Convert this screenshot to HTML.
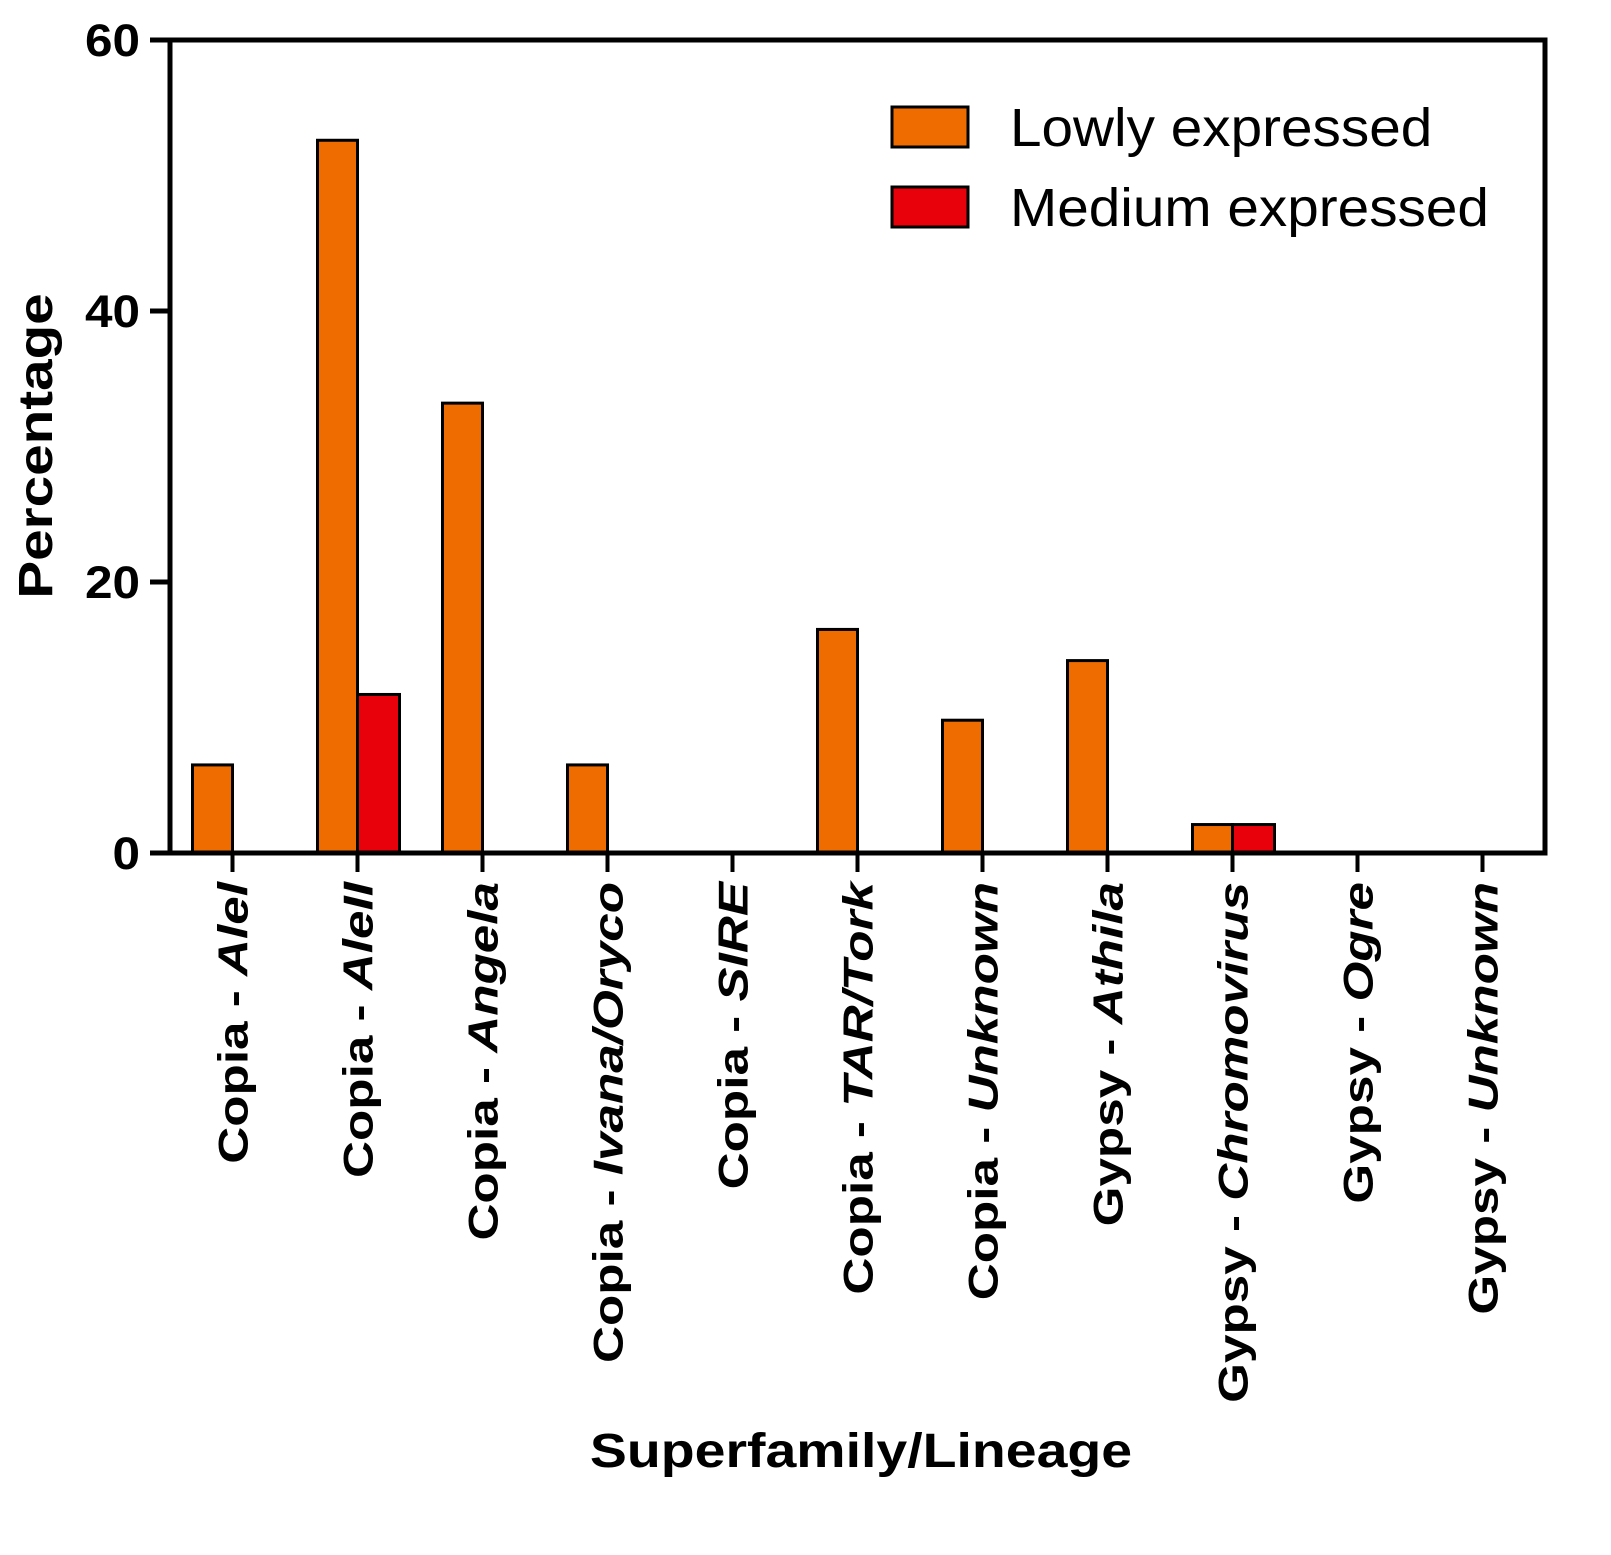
<!DOCTYPE html>
<html><head><meta charset="utf-8"><style>
body{margin:0;background:#fff;}
svg text{font-family:"Liberation Sans",Arial,sans-serif;}
</style></head><body>
<svg id="chart" width="1611" height="1550">
</svg>
<script>
const categories=[["Copia","Alel"],["Copia","AleII"],["Copia","Angela"],["Copia","Ivana/Oryco"],["Copia","SIRE"],["Copia","TAR/Tork"],["Copia","Unknown"],["Gypsy","Athila"],["Gypsy","Chromovirus"],["Gypsy","Ogre"],["Gypsy","Unknown"]];
const lowly=[6.5,52.6,33.2,6.5,0,16.5,9.8,14.2,2.1,0,0];
const medium=[0,11.7,0,0,0,0,0,0,2.1,0,0];
const yTicks=[0,20,40,60];
const NS="http://www.w3.org/2000/svg";
const svg=document.getElementById('chart');
const L=170,R=1545,T=40,B=853,yMax=60;
const y=v=>B-(v/yMax)*(B-T);
const step=(R-L)/categories.length;
const xc=i=>L+step*(i+0.5);
function mk(tag,attrs,parent){const e=document.createElementNS(NS,tag);for(const k in attrs)e.setAttribute(k,attrs[k]);(parent||svg).appendChild(e);return e;}
lowly.forEach((v,i)=>{if(v<=0)return;
 const r=mk('rect',{x:xc(i)-40,y:y(v),width:40,height:B-y(v),fill:'#ef6c00',stroke:'#000','stroke-width':3});
 
 });
medium.forEach((v,i)=>{if(v<=0)return;
 const r=mk('rect',{x:xc(i),y:y(v),width:42,height:B-y(v),fill:'#e8000b',stroke:'#000','stroke-width':3});
 
 });
const f=mk('rect',{x:L,y:T,width:R-L,height:B-T,fill:'none',stroke:'#000','stroke-width':5});


yTicks.forEach(v=>{
 mk('line',{x1:150,x2:L,y1:y(v),y2:y(v),stroke:'#000','stroke-width':5});
 const t=mk('text',{transform:`translate(140,${y(v)+16}) scale(1.1,1)`,'text-anchor':'end','font-size':45,'font-weight':'bold'});
 t.textContent=v;
 
 });
categories.forEach((c,i)=>{
 const x=xc(i);
 mk('line',{x1:x,x2:x,y1:B,y2:872,stroke:'#000','stroke-width':4});
 const t=mk('text',{transform:`translate(${x+15},882) rotate(-90) scale(1.22,1)`,'text-anchor':'end','font-size':42,'font-weight':'bold'});
 const a=document.createElementNS(NS,'tspan');a.textContent=c[0]+' - ';t.appendChild(a);
 const b=document.createElementNS(NS,'tspan');b.setAttribute('font-style','italic');b.textContent=c[1];t.appendChild(b);
 
 });
const yt=mk('text',{transform:'translate(52,446) rotate(-90) scale(1.18,1)','text-anchor':'middle','font-size':48,'font-weight':'bold'});
yt.textContent='Percentage';


const xt=mk('text',{transform:'translate(861,1467) scale(1.155,1)','text-anchor':'middle','font-size':48,'font-weight':'bold'});
xt.textContent='Superfamily/Lineage';


[['Lowly expressed','#ef6c00',107],['Medium expressed','#e8000b',187]].forEach(([n,c,yy])=>{
 const g=mk('g',{});
 
 
 mk('rect',{x:892,y:yy,width:76,height:40,fill:c,stroke:'#000','stroke-width':3},g);
 const t=mk('text',{transform:`translate(1010,${yy+39}) scale(1.05,1)`,'font-size':54},g);t.textContent=n;});
</script>
</body></html>
